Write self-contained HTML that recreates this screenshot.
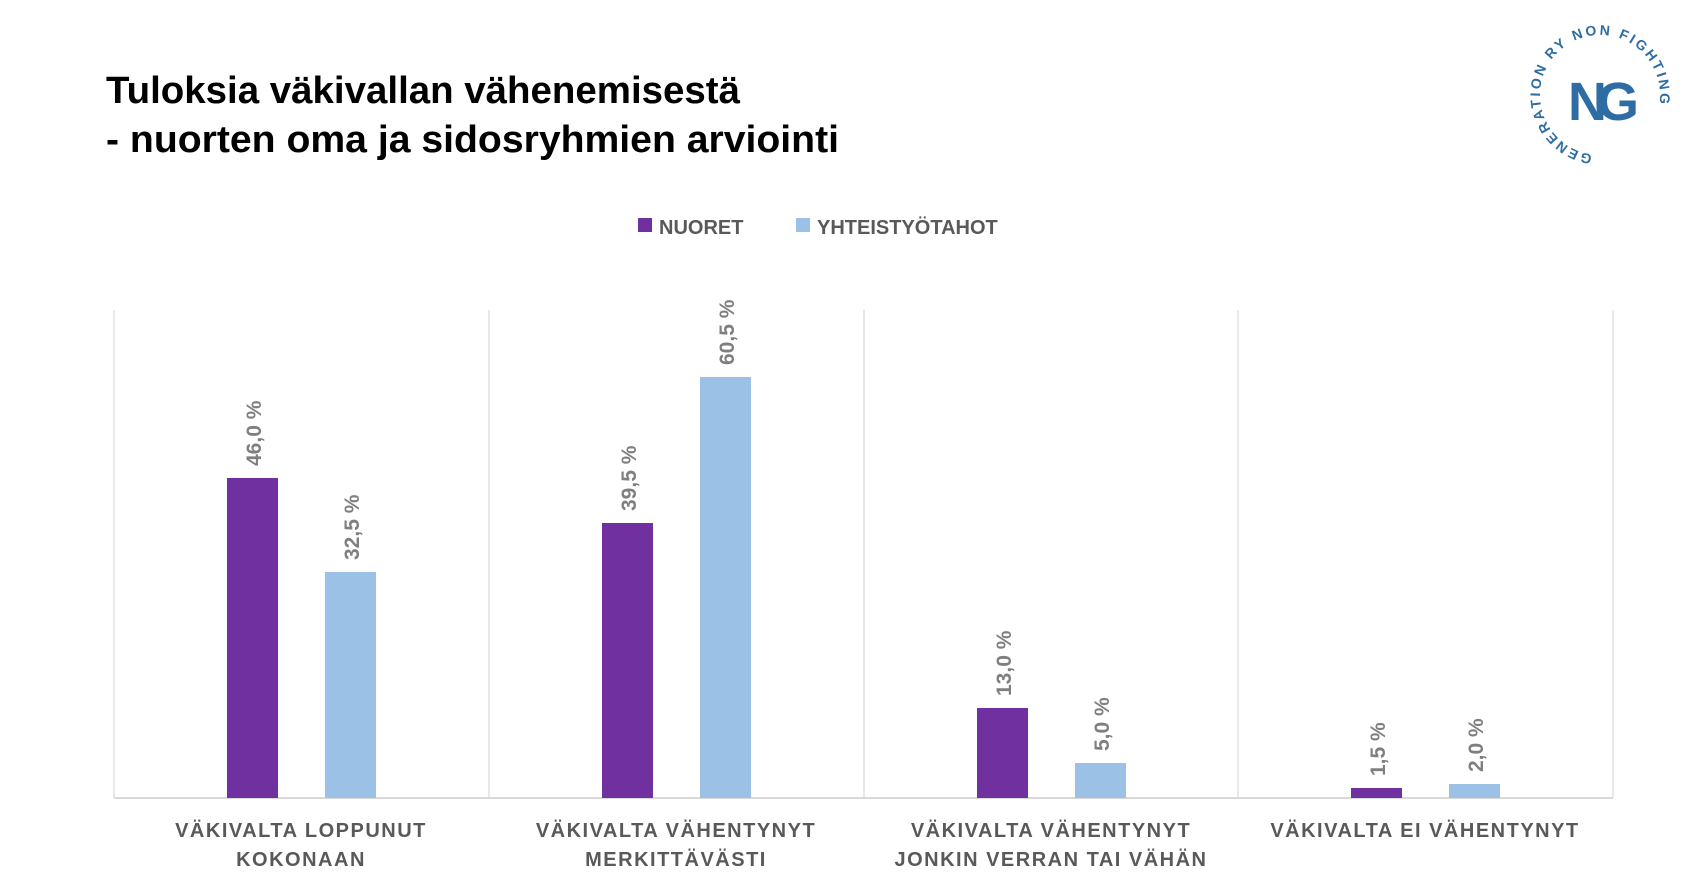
<!DOCTYPE html>
<html><head><meta charset="utf-8"><style>
html,body{margin:0;padding:0;background:#fff;}
svg{display:block;font-family:"Liberation Sans",sans-serif;}
</style></head><body>
<svg width="1705" height="881" viewBox="0 0 1705 881" xmlns="http://www.w3.org/2000/svg">
<text x="106" y="103" font-size="38" font-weight="bold" fill="#000" textLength="634" lengthAdjust="spacingAndGlyphs">Tuloksia väkivallan vähenemisestä</text>
<text x="106" y="152" font-size="38" font-weight="bold" fill="#000" textLength="733" lengthAdjust="spacingAndGlyphs">- nuorten oma ja sidosryhmien arviointi</text>
<!-- logo -->
<g fill="#2e6da4">
<path id="arc" d="M1600,155 a60,60 0 1,1 0.1,0" fill="none"/>
<text x="1568" y="120" font-size="54" font-weight="bold" letter-spacing="-10">NG</text>
<text font-size="14" font-weight="bold" letter-spacing="2.5"><textPath href="#arc" startOffset="2%">GENERATION RY NON FIGHTING</textPath></text>
</g>
<!-- legend -->
<rect x="638" y="218" width="14" height="14" fill="#7030a0"/>
<text x="659" y="234" font-size="20" font-weight="bold" fill="#595959">NUORET</text>
<rect x="796" y="218" width="14" height="14" fill="#9bc2e6"/>
<text x="817" y="234" font-size="20" font-weight="bold" fill="#595959">YHTEISTYÖTAHOT</text>
<!-- grid -->
<g stroke="#d9d9d9" stroke-width="1.2">
<line x1="114" y1="310" x2="114" y2="798"/>
<line x1="489" y1="310" x2="489" y2="798"/>
<line x1="864" y1="310" x2="864" y2="798"/>
<line x1="1238" y1="310" x2="1238" y2="798"/>
<line x1="1613" y1="310" x2="1613" y2="798"/>
<line x1="114" y1="798" x2="1613" y2="798" stroke-width="2"/>
</g>
<!-- bars -->
<g>
<rect x="227" y="478" width="51" height="320" fill="#7030a0"/>
<rect x="325" y="572" width="51" height="226" fill="#9bc2e6"/>
<rect x="602" y="523" width="51" height="275" fill="#7030a0"/>
<rect x="700" y="377" width="51" height="421" fill="#9bc2e6"/>
<rect x="977" y="708" width="51" height="90" fill="#7030a0"/>
<rect x="1075" y="763" width="51" height="35" fill="#9bc2e6"/>
<rect x="1351" y="788" width="51" height="10" fill="#7030a0"/>
<rect x="1449" y="784" width="51" height="14" fill="#9bc2e6"/>
</g>
<g font-size="21" font-weight="bold" fill="#7f7f7f">
<text transform="translate(261,466) rotate(-90)">46,0 %</text>
<text transform="translate(359,560) rotate(-90)">32,5 %</text>
<text transform="translate(636,511) rotate(-90)">39,5 %</text>
<text transform="translate(734,365) rotate(-90)">60,5 %</text>
<text transform="translate(1011,696) rotate(-90)">13,0 %</text>
<text transform="translate(1109,751) rotate(-90)">5,0 %</text>
<text transform="translate(1385,776) rotate(-90)">1,5 %</text>
<text transform="translate(1483,772) rotate(-90)">2,0 %</text>
</g>
<g font-size="20" font-weight="bold" fill="#595959" text-anchor="middle" letter-spacing="1.5">
<text x="301" y="837">VÄKIVALTA LOPPUNUT</text>
<text x="301" y="866">KOKONAAN</text>
<text x="676" y="837">VÄKIVALTA VÄHENTYNYT</text>
<text x="676" y="866">MERKITTÄVÄSTI</text>
<text x="1051" y="837">VÄKIVALTA VÄHENTYNYT</text>
<text x="1051" y="866">JONKIN VERRAN TAI VÄHÄN</text>
<text x="1425" y="837">VÄKIVALTA EI VÄHENTYNYT</text>
</g>
</svg>
</body></html>
